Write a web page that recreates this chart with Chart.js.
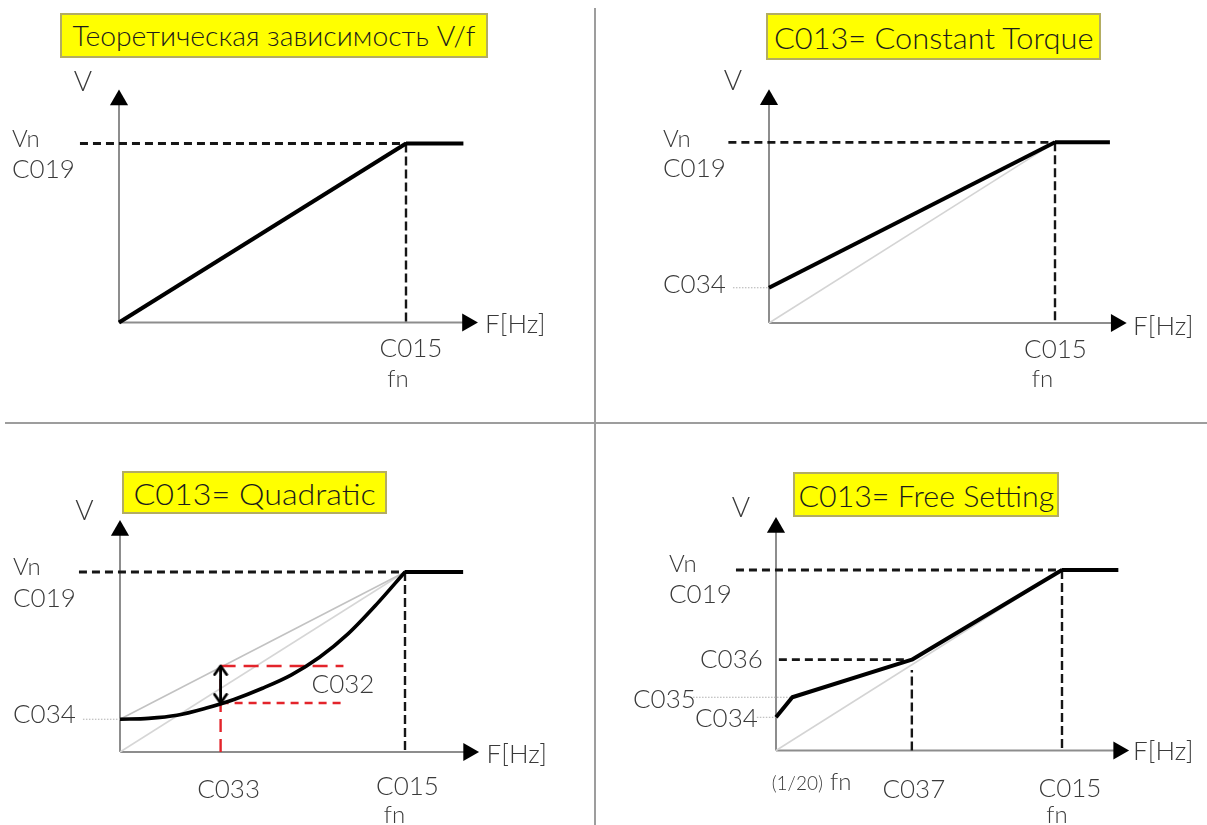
<!DOCTYPE html>
<html lang="ru">
<head>
<meta charset="utf-8">
<title>Зависимость V/f</title>
<script src="https://cdn.jsdelivr.net/npm/chart.js@4.4.1/dist/chart.umd.min.js"></script>
<style>
    html, body { margin: 0; padding: 0; background: #fff; }
    body { width: 1207px; height: 825px; position: relative; overflow: hidden; font-family: Lato, 'Open Sans', sans-serif; }
    canvas { position: absolute; }
    .divider { position: absolute; background: #9d9d9d; }
    .title {
        position: absolute; box-sizing: border-box;
        background: #ffff00; border: 2px solid #b3ad62;
        display: flex; align-items: center; justify-content: center;
        color: #1c1c1c; white-space: nowrap; font-weight: 300;
    }
    .title span { display: inline-block; transform-origin: center; }
</style>
</head>
<body>
<div class="divider" style="left:594px; top:8px; width:1.5px; height:817px;"></div>
<div class="divider" style="left:5px; top:422px; width:1202px; height:1.5px;"></div>

<canvas id="p1" width="594" height="421" style="left:0; top:0;"></canvas>
<canvas id="p2" width="611" height="421" style="left:596px; top:0;"></canvas>
<canvas id="p3" width="594" height="402" style="left:0; top:423px;"></canvas>
<canvas id="p4" width="611" height="402" style="left:596px; top:423px;"></canvas>

<div class="title" style="left:60px; top:13px; width:428px; height:45px; font-size:27px;"><span data-w="403">Теоретическая зависимость V/f</span></div>
<div class="title" style="left:766px; top:13px; width:335px; height:47px; font-size:30px;"><span data-w="319">C013= Constant Torque</span></div>
<div class="title" style="left:122px; top:471px; width:265px; height:43px; font-size:30px;"><span data-w="242">C013= Quadratic</span></div>
<div class="title" style="left:793px; top:472px; width:266px; height:45px; font-size:30px;"><span data-w="256">C013= Free Setting</span></div>

<script>
// Частота в % от fn (C015), напряжение в % от Vn (C019)
const FN = 100;
const VN = 100;

// концы осей со стрелками [f, V] для каждой панели
const axisEnds = [[121.4, 124.3], [121.4, 123.5], [122.3, 123.0], [119.8, 123.5]];
// где кончается горизонтальный участок после fn
const flatEnds = [120.0, 119.2, 120.4, 119.7];
// начало пунктира Vn слева от оси V
const vnDashStart = [-13.6, -14.2, -14.4, -14.0];

// 1) теоретическая зависимость
const p1F = [0, FN];
const p1V = [0, VN];

// 2) Constant Torque
const p2C034 = 19.5;
const p2F = [0, FN];
const p2V = [p2C034, VN];

// 3) Quadratic
const p3C034 = 18.2;
const p3CurveF = [0, 10, 20, 30, 40, 50, 60, 70, 80, 90, FN];
const p3CurveV = [18.2, 18.7, 20.4, 24.3, 29.2, 35.4, 42.7, 52.6, 65.6, 82.0, VN];
const p3C033 = 35.3;
const p3Upper = 47.8;   // прямая C034 -> Vn при C033
const p3Lower = 27.2;   // кривая при C033
const p3RedEnd = 78.4;

// 4) Free Setting
const p4C034 = 18.4;
const p4C035 = 29.5;
const p4F20 = 5.7;      // (1/20) fn
const p4C036 = 50.3;
const p4C037 = 47.5;
const p4F = [0, p4F20, p4C037, FN];
const p4V = [p4C034, p4C035, p4C036, VN];

document.addEventListener('DOMContentLoaded', () => {

    // подгонка ширины заголовков
    document.querySelectorAll('.title span').forEach(s => {
        const k = Number(s.dataset.w) / s.offsetWidth;
        s.style.transform = `scaleX(${k})`;
    });

    const AXIS = '#8d8d8d';
    const TEXT = '#3a3a3a';
    const FONT = "Lato, 'Open Sans', sans-serif";
    const X_MAX = 126;   // область графика чуть шире стрелок осей
    const Y_MAX = 128;

    const pts = (xs, ys) => xs.map((x, i) => ({ x, y: ys[i] }));

    // отступы так, чтобы начало координат и (fn, Vn) попали в нужные пиксели
    const frame = ({ w, h, ox, oy, sx, sy }) => ({
        left: ox,
        bottom: h - oy,
        right: w - (ox + X_MAX * sx),
        top: oy - Y_MAX * sy
    });

    const line = (data, extra) => Object.assign({
        data,
        showLine: true,
        clip: false,
        fill: false,
        pointRadius: 0,
        borderColor: '#000',
        borderWidth: 4,
        borderJoinStyle: 'round'
    }, extra);

    const dashed = (data, extra) => line(data, Object.assign({
        borderColor: '#161616', borderWidth: 2.8, borderDash: [8, 5], borderJoinStyle: 'miter'
    }, extra));

    const dotted = (data) => line(data, {
        borderColor: '#b0b0b0', borderWidth: 1, borderDash: [1.5, 1.5]
    });

    const ref = (data, color) => line(data, { borderColor: color || '#d4d4d4', borderWidth: 1.5 });

    // оси со стрелками-треугольниками на концах
    const axes = (end) => [
        line(pts([0, end[0]], [0, 0]), {
            borderColor: AXIS, borderWidth: 2,
            pointRadius: [0, 10.5], pointStyle: 'triangle', pointRotation: 90,
            pointBackgroundColor: '#000', pointBorderWidth: 0
        }),
        line(pts([0, 0], [0, end[1]]), {
            borderColor: AXIS, borderWidth: 2,
            pointRadius: [0, 10.5], pointStyle: 'triangle', pointRotation: 0,
            pointBackgroundColor: '#000', pointBorderWidth: 0
        })
    ];

    // Vn пунктир, горизонтальный участок и пунктир fn
    const nominal = (i) => [
        line(pts([FN, flatEnds[i]], [VN, VN])),
        dashed(pts([vnDashStart[i], FN], [VN, VN])),
        dashed(pts([FN, FN], [VN, 0]), { borderWidth: 2.4, borderDash: [9, 4] })
    ];

    // открытая стрелка (галочка) для C032
    const chev = document.createElement('canvas');
    chev.width = 16; chev.height = 24;
    const cc = chev.getContext('2d');
    cc.strokeStyle = '#000'; cc.lineWidth = 2.8; cc.lineCap = 'round'; cc.lineJoin = 'round';
    cc.beginPath(); cc.moveTo(2, 20.5); cc.lineTo(8, 12); cc.lineTo(14, 20.5); cc.stroke();

    // подписи: [текст, f, V, dx, dy, выравнивание, размер]
    const textPlugin = {
        id: 'vfText',
        afterDatasetsDraw(chart, args, opts) {
            const { ctx, scales: { x, y } } = chart;
            ctx.save();
            ctx.fillStyle = TEXT;
            ctx.textBaseline = 'alphabetic';
            (opts.items || []).forEach(([t, f, v, dx, dy, align, size]) => {
                ctx.font = `300 ${size || 26}px ${FONT}`;
                ctx.textAlign = align || 'left';
                ctx.fillText(t, x.getPixelForValue(f) + dx, y.getPixelForValue(v) + dy);
            });
            ctx.restore();
        }
    };

    const makeChart = (id, geom, datasets, items) => new Chart(document.getElementById(id), {
        type: 'scatter',
        data: { datasets },
        options: {
            responsive: false,
            animation: false,
            events: [],
            layout: { padding: frame(geom) },
            scales: {
                x: { type: 'linear', min: 0, max: X_MAX, display: false },
                y: { type: 'linear', min: 0, max: Y_MAX, display: false }
            },
            plugins: {
                legend: { display: false },
                tooltip: { enabled: false },
                vfText: { items }
            }
        },
        plugins: [textPlugin]
    });

    // 1. Теоретическая зависимость V/f
    makeChart('p1', { w: 594, h: 421, ox: 119, oy: 322.5, sx: 2.87, sy: 1.79 }, [
        line(pts(p1F, p1V)),
        ...nominal(0),
        ...axes(axisEnds[0])
    ], [
        ['V', 0, VN, -36, -52.5, 'center', 28],
        ['Vn', 0, VN, -107, 3.5, 'left', 24],
        ['C019', 0, VN, -107, 34.5, 'left', 26],
        ['C015', FN, 0, 5, 34.5, 'center', 26],
        ['fn', FN, 0, -8, 64.5, 'center', 24],
        ['F[Hz]', FN, 0, 79, 10.5, 'left', 26]
    ]);

    // 2. Constant Torque
    makeChart('p2', { w: 611, h: 421, ox: 173, oy: 323, sx: 2.86, sy: 1.807 }, [
        line(pts(p2F, p2V)),
        ...nominal(1),
        ref(pts([0, FN], [0, VN])),
        dotted(pts([-12.6, 0], [p2C034, p2C034])),
        ...axes(axisEnds[1])
    ], [
        ['V', 0, VN, -36, -52, 'center', 28],
        ['Vn', 0, VN, -106, 4.7, 'left', 24],
        ['C019', 0, VN, -106, 34.7, 'left', 26],
        ['C034', 0, p2C034, -106, 5.3, 'left', 26],
        ['C015', FN, 0, 0.5, 35, 'center', 26],
        ['fn', FN, 0, -12.5, 64, 'center', 24],
        ['F[Hz]', FN, 0, 78, 12, 'left', 26]
    ]);

    // 3. Quadratic
    makeChart('p3', { w: 594, h: 402, ox: 120, oy: 329, sx: 2.85, sy: 1.8 }, [
        line(pts([p3C033, p3C033], [p3Lower, p3Upper]), {
            borderWidth: 2.8, pointStyle: chev, pointRadius: [8, 8], pointRotation: [180, 0]
        }),
        line(pts(p3CurveF, p3CurveV), { borderWidth: 3.6, cubicInterpolationMode: 'monotone' }),
        ...nominal(2),
        dashed(pts([p3C033, p3RedEnd], [p3Upper, p3Upper]), { borderColor: '#e3242b', borderWidth: 2.4, borderDash: [15, 8] }),
        dashed(pts([p3C033, p3RedEnd], [p3Lower, p3Lower]), { borderColor: '#e3242b', borderWidth: 2.4, borderDash: [8, 6] }),
        dashed(pts([p3C033, p3C033], [0, p3Upper]), { borderColor: '#e3242b', borderWidth: 2.4, borderDash: [13, 7] }),
        ref(pts([0, FN], [p3C034, VN]), '#c2c2c2'),
        ref(pts([0, FN], [0, VN]), '#d6d6d6'),
        dotted(pts([-13, 0], [p3C034, p3C034])),
        ...axes(axisEnds[2])
    ], [
        ['V', 0, VN, -35.5, -52, 'center', 28],
        ['Vn', 0, VN, -107, 3, 'left', 24],
        ['C019', 0, VN, -107, 35, 'left', 26],
        ['C034', 0, p3C034, -107, 3.7, 'left', 26],
        ['C032', p3C033, p3Lower, 91, -9.7, 'left', 26],
        ['C033', p3C033, 0, 8, 46, 'center', 26],
        ['C015', FN, 0, 2.5, 43, 'center', 26],
        ['fn', FN, 0, -10.5, 71, 'center', 24],
        ['F[Hz]', FN, 0, 81.5, 11, 'left', 26]
    ]);

    // 4. Free Setting
    makeChart('p4', { w: 611, h: 402, ox: 180, oy: 327.5, sx: 2.86, sy: 1.805 }, [
        line(pts(p4F, p4V)),
        ...nominal(3),
        dashed(pts([1, 46], [p4C036, p4C036])),
        dashed(pts([p4C037, p4C037], [0, 44.6]), { borderWidth: 2.4, borderDash: [9, 4] }),
        ref(pts([0, FN], [0, VN])),
        dotted(pts([-29, p4F20], [p4C035, p4C035])),
        dotted(pts([-6.7, 0], [p4C034, p4C034])),
        ...axes(axisEnds[3])
    ], [
        ['V', 0, VN, -35, -53, 'center', 28],
        ['Vn', 0, VN, -107, 2, 'left', 24],
        ['C019', 0, VN, -107, 33, 'left', 26],
        ['C036', 0, p4C036, -76, 8, 'left', 26],
        ['C035', 0, p4C035, -143, 10.7, 'left', 26],
        ['C034', 0, p4C034, -81, 9.4, 'left', 26],
        ['(1/20)', 0, 0, -4.3, 39.5, 'left', 19],
        ['fn', 0, 0, 54, 39.5, 'left', 24],
        ['C037', p4C037, 0, 2, 47.5, 'center', 26],
        ['C015', FN, 0, 8, 46.5, 'center', 26],
        ['fn', FN, 0, -5, 72.5, 'center', 24],
        ['F[Hz]', FN, 0, 71, 9.5, 'left', 26]
    ]);
});
</script>
</body>
</html>
